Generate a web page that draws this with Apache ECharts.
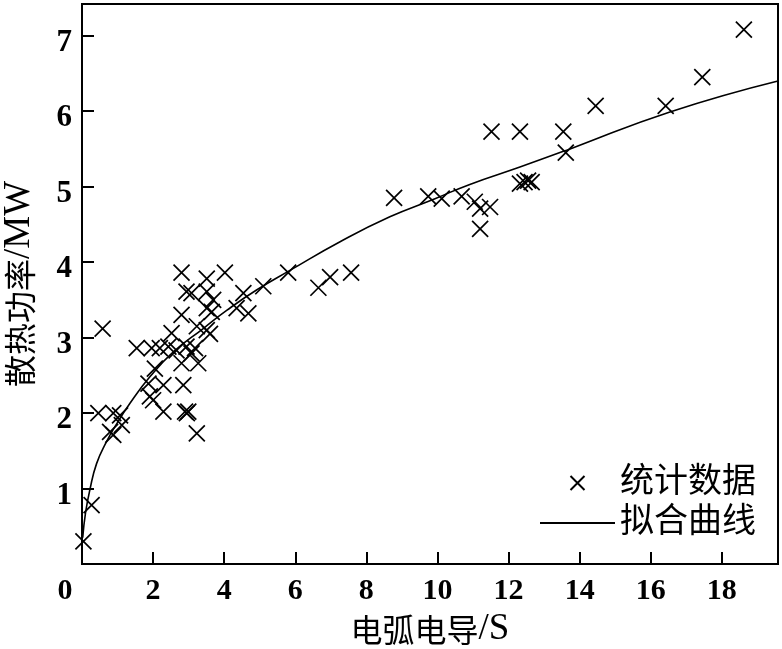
<!DOCTYPE html>
<html><head><meta charset="utf-8">
<script src="https://cdn.jsdelivr.net/npm/echarts@6/dist/echarts.min.js"></script>
<style>html,body{margin:0;padding:0;background:#fff}#c{width:782px;height:649px}</style>
</head><body><div id="c"></div>
<script>
var xTicks = [0, 2, 4, 6, 8, 10, 12, 14, 16, 18];
var yTicks = [1, 2, 3, 4, 5, 6, 7];
var scatterData = [
 [0.04,0.30],[0.27,0.78],[0.46,2.00],[0.58,3.12],[0.79,1.75],[0.88,1.71],[0.88,2.00],[1.07,1.97],[1.12,1.84],
 [1.54,2.86],[1.87,2.39],[1.91,2.22],[2.00,2.17],[1.96,2.86],[2.05,2.59],[2.19,2.86],[2.29,2.37],[2.29,2.02],
 [2.43,2.88],[2.52,3.06],[2.66,2.83],[2.80,2.66],[2.80,3.30],[2.80,3.86],[2.85,2.37],[2.90,2.02],[2.95,2.00],
 [2.99,2.02],[2.94,2.88],[2.94,3.61],[3.08,3.59],[3.08,2.79],[3.18,2.86],[3.23,3.15],[3.23,1.73],[3.27,2.66],
 [3.51,3.10],[3.60,3.05],[3.51,3.39],[3.65,3.34],[3.69,3.50],[3.51,3.61],[3.51,3.78],[4.02,3.86],[4.35,3.39],
 [4.54,3.59],[4.68,3.32],[5.10,3.68],[5.80,3.86],[6.65,3.66],[6.98,3.80],[7.57,3.86],[8.78,4.85],[9.74,4.87],
 [10.12,4.84],[10.68,4.87],[11.05,4.80],[11.20,4.71],[11.48,4.73],[11.20,4.44],[11.52,5.73],[12.32,5.73],
 [12.32,5.04],[12.45,5.06],[12.55,5.08],[12.65,5.06],[13.54,5.73],[13.61,5.45],[14.45,6.07],[16.42,6.07],
 [17.45,6.45],[18.62,7.08]
];
var curveData = [
 [0.02,0.35],[0.10,0.68],[0.22,0.98],[0.41,1.33],[0.69,1.62],[0.98,1.86],[1.35,2.13],[1.91,2.48],[2.57,2.81],
 [3.41,3.12],[4.07,3.36],[4.91,3.63],[5.85,3.89],[7.26,4.27],[8.66,4.60],[9.93,4.84],[10.91,5.03],[12.32,5.26],
 [13.73,5.50],[16.54,5.99],[19.58,6.40]
];
var seriesNames = ['统计数据', '拟合曲线'];
var xNameParts = ['电弧电导', '/S'];
var yNameParts = ['散热功率', '/MW'];

var FONT = "'Liberation Serif', 'Noto Sans CJK SC', serif";
var CJK = "'Noto Sans CJK SC', sans-serif";
var XPATH = 'path://M0,0L10,10M10,0L0,10';
var LINEPATH = 'path://M0,0L75,0L75,2L0,2Z';
var nameRich = {
  c: {fontFamily: CJK, fontSize: 32, color: '#000'},
  l: {fontFamily: "'Liberation Serif', serif", fontSize: 37, color: '#000'}
};
var chart = echarts.init(document.getElementById('c'), null, {renderer: 'canvas'});
chart.setOption({
  animation: false,
  backgroundColor: '#fff',
  grid: {left: 82, right: 4, top: 4, bottom: 85, show: true, borderColor: '#000', borderWidth: 2,
         backgroundColor: 'transparent', containLabel: false, outerBoundsMode: 'none'},
  legend: {
    orient: 'vertical', left: 540, top: 465, itemWidth: 75, itemHeight: 14, itemGap: 4, padding: 0,
    symbolKeepAspect: true,
    textStyle: {fontFamily: FONT, fontSize: 34, color: '#000', lineHeight: 36},
    data: [{name: seriesNames[0], icon: XPATH}, {name: seriesNames[1], icon: LINEPATH, itemStyle: {color: '#000'}}]
  },
  xAxis: {
    type: 'value', min: 0, max: 19.58, interval: 2,
    name: '{c|' + xNameParts[0] + '}{l|' + xNameParts[1] + '}', nameLocation: 'middle', nameGap: 46,
    nameTextStyle: {rich: nameRich},
    splitLine: {show: false},
    axisLine: {lineStyle: {color: '#000', width: 2}},
    axisTick: {inside: true, length: 12, lineStyle: {color: '#000', width: 2}},
    axisLabel: {
      showMaxLabel: false, margin: 12, color: '#000', fontFamily: FONT, fontSize: 30, fontWeight: 'bold',
      formatter: function (v) { return xTicks.indexOf(v) >= 0 ? (v === 0 ? '{o|0}' : String(v)) : ''; },
      rich: {o: {fontFamily: FONT, fontSize: 30, fontWeight: 'bold', color: '#000', padding: [0, 34, 0, 0]}}
    }
  },
  yAxis: {
    type: 'value', min: 0, max: 7.42, interval: 1,
    name: '{c|' + yNameParts[0] + '}{l|' + yNameParts[1] + '}', nameLocation: 'middle', nameGap: 44, nameRotate: 90,
    nameTextStyle: {rich: nameRich},
    splitLine: {show: false},
    axisLine: {lineStyle: {color: '#000', width: 2}},
    axisTick: {inside: true, length: 12, lineStyle: {color: '#000', width: 2}},
    axisLabel: {
      showMaxLabel: false, margin: 10,
      formatter: function (v) { return yTicks.indexOf(v) >= 0 ? '{d|' + v + '}' : ''; },
      rich: {d: {fontFamily: FONT, fontSize: 31, fontWeight: 'bold', color: '#000', padding: [14, 0, 0, 0]}}
    }
  },
  series: [
    {
      name: seriesNames[0], type: 'scatter', data: scatterData,
      symbol: XPATH, symbolSize: 16, symbolKeepAspect: true,
      itemStyle: {color: 'transparent', borderColor: '#000', borderWidth: 1.7, opacity: 1}
    },
    {
      name: seriesNames[1], type: 'line', data: curveData, smooth: true, showSymbol: false, symbol: 'none',
      lineStyle: {color: '#000', width: 1.6}, itemStyle: {color: '#000'}
    }
  ]
});
</script></body></html>
